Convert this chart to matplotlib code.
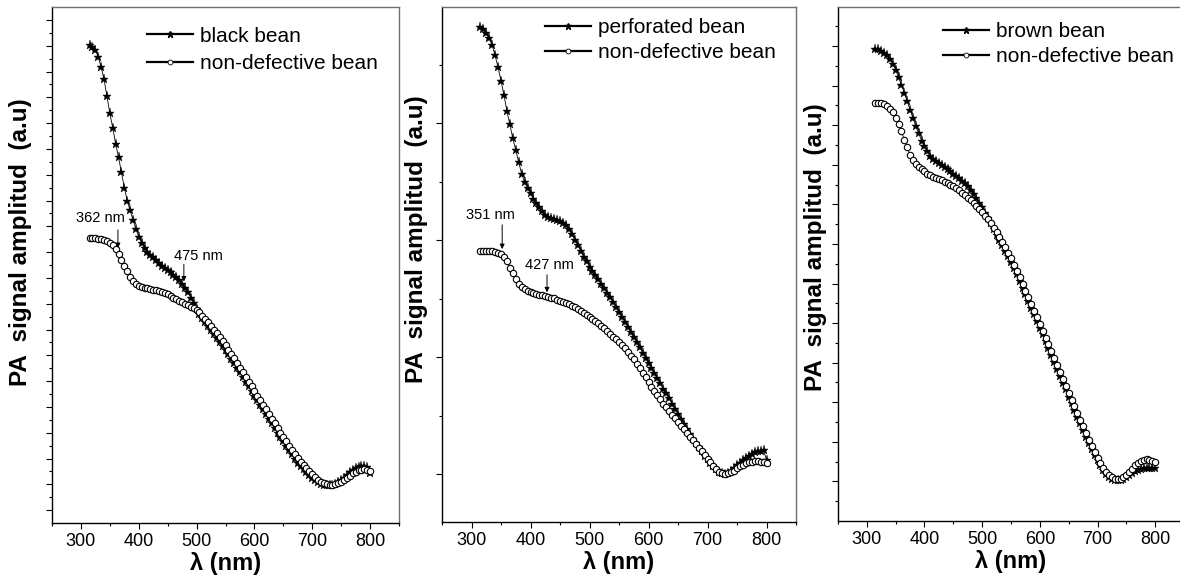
import matplotlib
matplotlib.use('Agg')
import matplotlib.pyplot as plt
from matplotlib.lines import Line2D
from matplotlib.ticker import MultipleLocator, FixedLocator
import numpy as np

plt.rcParams['font.family'] = ['Liberation Sans', 'DejaVu Sans']

# wavelength grid (nm)
wl = [315, 320, 325, 330, 335, 340, 345, 350, 355, 360,
      365, 370, 375, 380, 385, 390, 395, 400, 405, 410,
      415, 420, 425, 430, 435, 440, 445, 450, 455, 460,
      465, 470, 475, 480, 485, 490, 495, 500, 505, 510,
      515, 520, 525, 530, 535, 540, 545, 550, 555, 560,
      565, 570, 575, 580, 585, 590, 595, 600, 605, 610,
      615, 620, 625, 630, 635, 640, 645, 650, 655, 660,
      665, 670, 675, 680, 685, 690, 695, 700, 705, 710,
      715, 720, 725, 730, 735, 740, 745, 750, 755, 760,
      765, 770, 775, 780, 785, 790, 795, 800]

# panel 1: black bean vs non-defective
black = [92.6, 92.3, 91.6, 90.4, 88.3, 86.0, 82.7, 79.4, 76.6, 73.5,
         70.9, 68.0, 65.0, 62.5, 60.6, 58.8, 57.0, 55.5, 54.3, 53.3,
         52.6, 52.0, 51.5, 50.9, 50.4, 49.9, 49.5, 49.0, 48.6, 48.1,
         47.6, 47.1, 46.4, 45.6, 44.7, 43.7, 42.6, 41.5, 40.6, 39.8,
         39.0, 38.2, 37.5, 36.7, 35.9, 35.1, 34.3, 33.5, 32.7, 31.8,
         31.0, 30.1, 29.2, 28.3, 27.4, 26.5, 25.6, 24.7, 23.8, 22.9,
         22.0, 21.1, 20.2, 19.3, 18.4, 17.5, 16.6, 15.8, 14.9, 14.1,
         13.3, 12.5, 11.7, 11.0, 10.4, 9.8, 9.3, 8.8, 8.3, 7.9,
         7.6, 7.4, 7.3, 7.3, 7.4, 7.6, 7.9, 8.3, 8.8, 9.3,
         9.8, 10.3, 10.7, 10.9, 11.1, 11.1, 10.8, 9.6]
good1 = [55.2, 55.2, 55.2, 55.1, 55.0, 54.9, 54.6, 54.3, 53.8, 53.1,
         52.2, 51.0, 49.8, 48.8, 47.7, 46.9, 46.4, 46.0, 45.8, 45.6,
         45.5, 45.4, 45.2, 45.1, 44.9, 44.7, 44.5, 44.3, 44.0, 43.7,
         43.4, 43.1, 42.8, 42.5, 42.2, 41.9, 41.6, 41.3, 40.8, 40.2,
         39.6, 38.9, 38.2, 37.5, 36.8, 36.0, 35.2, 34.4, 33.6, 32.7,
         31.9, 31.0, 30.1, 29.2, 28.3, 27.4, 26.5, 25.6, 24.7, 23.8,
         22.9, 22.0, 21.1, 20.2, 19.3, 18.4, 17.5, 16.7, 15.8, 15.0,
         14.2, 13.4, 12.6, 11.9, 11.2, 10.6, 10.0, 9.4, 8.9, 8.4,
         8.0, 7.7, 7.5, 7.4, 7.4, 7.5, 7.7, 8.0, 8.4, 8.8,
         9.2, 9.6, 9.9, 10.2, 10.3, 10.4, 10.3, 10.0]

# panel 2: perforated bean vs non-defective
perforated = [96.2, 95.7, 94.9, 93.9, 92.6, 90.6, 88.3, 85.7, 82.9, 79.8,
              77.2, 74.5, 72.2, 69.9, 67.6, 66.0, 64.8, 63.8, 62.8, 61.9,
              61.1, 60.3, 59.7, 59.3, 59.0, 58.9, 58.7, 58.4, 58.1, 57.6,
              56.9, 55.9, 54.8, 53.8, 52.7, 51.5, 50.6, 49.6, 48.7, 47.9,
              47.1, 46.3, 45.4, 44.5, 43.6, 42.7, 41.7, 40.8, 39.8, 38.9,
              37.9, 36.9, 35.9, 34.9, 33.9, 32.9, 31.9, 30.9, 29.9, 28.9,
              27.9, 26.9, 25.9, 25.0, 24.0, 23.0, 22.0, 21.0, 20.0, 19.0,
              18.1, 17.1, 16.2, 15.3, 14.5, 13.7, 12.9, 12.2, 11.5, 10.8,
              10.2, 9.8, 9.5, 9.4, 9.6, 10.0, 10.5, 11.0, 11.5, 12.0,
              12.5, 12.9, 13.2, 13.5, 13.7, 13.8, 13.9, 12.1]
good2 = [52.7, 52.7, 52.7, 52.7, 52.6, 52.5, 52.3, 52.0, 51.5, 50.6,
         49.4, 48.3, 47.1, 46.3, 45.6, 45.2, 44.8, 44.6, 44.4, 44.3,
         44.1, 44.0, 43.9, 43.7, 43.5, 43.4, 43.2, 43.0, 42.8, 42.5,
         42.3, 42.0, 41.7, 41.4, 41.0, 40.6, 40.2, 39.9, 39.5, 39.1,
         38.6, 38.1, 37.6, 37.1, 36.6, 36.0, 35.5, 34.9, 34.3, 33.7,
         33.0, 32.3, 31.6, 30.7, 29.9, 29.0, 28.2, 27.2, 26.3, 25.5,
         24.6, 23.8, 23.0, 22.3, 21.5, 20.8, 20.1, 19.4, 18.7, 18.0,
         17.3, 16.6, 15.9, 15.2, 14.4, 13.7, 13.0, 12.3, 11.6, 10.9,
         10.3, 9.8, 9.5, 9.4, 9.5, 9.7, 10.0, 10.4, 10.8, 11.1,
         11.4, 11.6, 11.7, 11.8, 11.8, 11.7, 11.6, 11.4]

# panel 3: brown bean vs non-defective
brown = [91.9, 91.8, 91.5, 91.1, 90.6, 89.9, 89.0, 87.8, 86.3, 84.8,
         83.3, 81.7, 80.0, 78.4, 76.8, 75.4, 74.0, 72.9, 71.9, 71.1,
         70.5, 70.0, 69.6, 69.2, 68.8, 68.4, 68.0, 67.6, 67.1, 66.7,
         66.2, 65.7, 65.1, 64.4, 63.6, 62.8, 61.9, 61.0, 60.0, 59.0,
         57.9, 56.8, 55.6, 54.6, 53.6, 52.6, 51.5, 50.4, 49.2, 48.0,
         46.7, 45.4, 44.1, 42.8, 41.5, 40.2, 38.9, 37.6, 36.3, 35.0,
         33.7, 32.3, 31.0, 29.6, 28.3, 26.9, 25.6, 24.2, 22.9, 21.6,
         20.3, 19.0, 17.7, 16.4, 15.2, 14.0, 12.8, 11.8, 10.8, 9.9,
         9.2, 8.6, 8.2, 8.0, 7.9, 8.0, 8.2, 8.6, 9.0, 9.4,
         9.7, 10.0, 10.2, 10.3, 10.4, 10.4, 10.4, 10.3]
good3 = [81.3, 81.4, 81.4, 81.2, 80.8, 80.2, 79.5, 78.5, 77.3, 75.8,
         74.2, 72.7, 71.3, 70.3, 69.5, 68.9, 68.4, 68.0, 67.6, 67.3,
         67.0, 66.8, 66.5, 66.3, 66.0, 65.7, 65.4, 65.1, 64.7, 64.3,
         63.9, 63.4, 62.9, 62.4, 61.9, 61.3, 60.7, 60.1, 59.4, 58.7,
         57.9, 57.1, 56.2, 55.3, 54.3, 53.3, 52.2, 51.1, 49.9, 48.7,
         47.4, 46.1, 44.8, 43.5, 42.2, 40.9, 39.6, 38.3, 37.0, 35.7,
         34.4, 33.0, 31.7, 30.3, 29.0, 27.6, 26.3, 24.9, 23.6, 22.3,
         21.0, 19.7, 18.4, 17.1, 15.8, 14.6, 13.4, 12.3, 11.3, 10.4,
         9.6, 9.0, 8.5, 8.2, 8.1, 8.2, 8.5, 9.0, 9.6, 10.2,
         10.8, 11.3, 11.7, 11.9, 12.0, 11.9, 11.7, 11.4]

defect_names = ['black bean', 'perforated bean', 'brown bean']
defect_data = [black, perforated, brown]
good_data = [good1, good2, good3]

# peak annotations: (label, wavelength, text x, text y, arrow top, arrow tip)
notes = [
    [('362 nm', 364, 334, 59.2, 56.8, 53.3), ('475 nm', 478, 503, 51.8, 50.1, 46.8)],
    [('351 nm', 352, 332, 59.6, 57.7, 53.0), ('427 nm', 428, 432, 49.9, 48.0, 44.6)],
    [],
]

rects = [[52/1180, 57/580, 347/1180, 516/580],
         [442/1180, 58/580, 354/1180, 515/580],
         [838/1180, 59/580, 346/1180, 514/580]]
major_y = [np.arange(2.5, 100, 5), np.arange(9.3, 100, 22.7), np.arange(7.7, 100, 7.7)]
minor_y = [np.arange(5, 100, 5), np.arange(20.65, 100, 22.7), np.arange(3.85, 100, 7.7)]
leg_pos = [(0.274, 0.962), (0.291, 0.978), (0.303, 0.970)]
leg_space = [0.42, 0.28, 0.28]
ylab_pos = [(-0.058, 0.545), (-0.040, 0.55), (-0.032, 0.533)]

fig = plt.figure(figsize=(11.8, 5.8), dpi=100)

for i in range(3):
    ax = fig.add_axes(rects[i])
    ax.plot(wl, defect_data[i], color='black', lw=0.6, marker='*', ms=6.5,
            mfc='black', mec='black', mew=0.3, zorder=2)
    ax.plot(wl, good_data[i], color='black', lw=0.6, marker='o', ms=4.6,
            mfc='white', mec='black', mew=0.8, zorder=3)

    ax.set_xlim(250, 850)
    ax.set_ylim(0, 100)
    ax.set_xticks([300, 400, 500, 600, 700, 800])
    ax.xaxis.set_minor_locator(MultipleLocator(50))
    ax.yaxis.set_major_locator(FixedLocator(major_y[i]))
    ax.yaxis.set_minor_locator(FixedLocator(minor_y[i]))
    ax.tick_params(which='major', direction='out', length=4, width=0.8, labelsize=13, pad=3)
    ax.tick_params(which='minor', direction='out', length=2.2, width=0.8)
    ax.tick_params(axis='y', labelleft=False)
    for s in ['left', 'bottom']:
        ax.spines[s].set_color('black')
        ax.spines[s].set_linewidth(1.0)
    for s in ['top', 'right']:
        ax.spines[s].set_color('#707070')
        ax.spines[s].set_linewidth(1.0)

    ax.set_xlabel('λ (nm)', fontsize=17, fontweight='bold')
    ax.xaxis.set_label_coords(0.5, -0.057)
    ax.set_ylabel('PA  signal amplitud  (a.u)', fontsize=17.5, fontweight='bold')
    ax.yaxis.set_label_coords(*ylab_pos[i])

    for lab, xa, xt, yt, y0, y1 in notes[i]:
        ax.text(xt, yt, lab, fontsize=10.5, ha='center', va='center')
        ax.annotate('', xy=(xa, y1), xytext=(xa, y0),
                    arrowprops=dict(arrowstyle='-|>', color='black', lw=0.7,
                                    mutation_scale=7, shrinkA=0, shrinkB=0))

    handles = [Line2D([], [], color='black', lw=1.6, marker='*', ms=4.5),
               Line2D([], [], color='black', lw=1.6, marker='o', ms=3.5,
                      mfc='white', mec='black', mew=0.6)]
    ax.legend(handles, [defect_names[i], 'non-defective bean'], loc='upper left',
              bbox_to_anchor=leg_pos[i], frameon=False, fontsize=15,
              handlelength=2.2, handletextpad=0.35, labelspacing=leg_space[i],
              borderpad=0, borderaxespad=0)

fig.savefig('out.png', dpi=100, facecolor='white')
